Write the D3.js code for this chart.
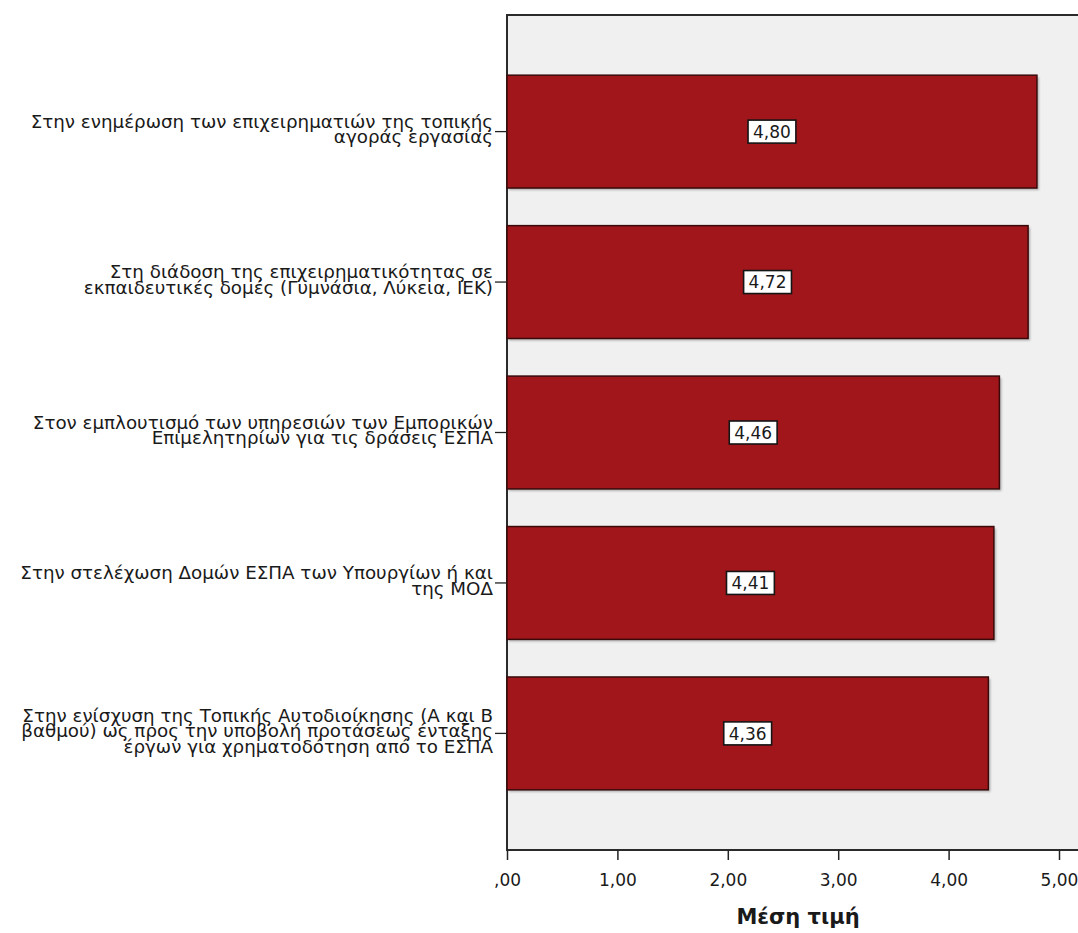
<!DOCTYPE html>
<html>
<head>
<meta charset="utf-8">
<script src="https://cdn.jsdelivr.net/npm/d3@7"></script>
<style>
  body { margin: 0; background: #ffffff; }
  svg { display: block; }
</style>
</head>
<body>
<svg id="chart" width="1078" height="933"></svg>
<script>
// Category labels, each split into the lines it is drawn on
const categoryLines = [
  ["Στην ενημέρωση των επιχειρηματιών της τοπικής", "αγοράς εργασίας"],
  ["Στη διάδοση της επιχειρηματικότητας σε", "εκπαιδευτικές δομές (Γυμνάσια, Λύκεια, ΙΕΚ)"],
  ["Στον εμπλουτισμό των υπηρεσιών των Εμπορικών", "Επιμελητηρίων για τις δράσεις ΕΣΠΑ"],
  ["Στην στελέχωση Δομών ΕΣΠΑ των Υπουργίων ή και", "της ΜΟΔ"],
  ["Στην ενίσχυση της Τοπικής Αυτοδιοίκησης (Α και Β", "βαθμού) ως προς την υποβολή προτάσεως ένταξης", "έργων για χρηματοδότηση από το ΕΣΠΑ"]
];
// Mean score per category
const meanValues = [4.80, 4.72, 4.46, 4.41, 4.36];
// X axis ticks and their printed labels
const tickValues = [0, 1, 2, 3, 4, 5];
const tickLabels = [",00", "1,00", "2,00", "3,00", "4,00", "5,00"];
const axisTitle = "Μέση τιμή";

const svg = d3.select("#chart");
const FONT = "'DejaVu Sans', sans-serif";
const plot = { left: 507, top: 15, bottom: 850, right: 1092 };

const x = d3.scaleLinear().domain([0, 5]).range([plot.left, 1059]);
const y = d3.scaleBand()
  .domain(d3.range(meanValues.length))
  .range([plot.top, plot.bottom])
  .paddingInner(0.25)
  .paddingOuter(0.4);

const fmt = v => v.toFixed(2).replace(".", ",");

// Plot background and frame
svg.append("rect")
  .attr("x", plot.left).attr("y", plot.top)
  .attr("width", plot.right - plot.left).attr("height", plot.bottom - plot.top)
  .attr("fill", "#f0f0f0")
  .attr("stroke", "#2a2a2a").attr("stroke-width", 2);

// Soft shadow under each bar
svg.append("defs").append("filter").attr("id", "soft")
  .append("feGaussianBlur").attr("stdDeviation", 1.2);

svg.append("g").selectAll("rect").data(meanValues).join("rect")
  .attr("x", x(0) + 2).attr("y", (d, i) => y(i) + 2)
  .attr("width", d => x(d) - x(0)).attr("height", y.bandwidth())
  .attr("fill", "#777").attr("opacity", 0.55)
  .attr("filter", "url(#soft)");

// Bars
svg.append("g").selectAll("rect").data(meanValues).join("rect")
  .attr("x", x(0)).attr("y", (d, i) => y(i))
  .attr("width", d => x(d) - x(0)).attr("height", y.bandwidth())
  .attr("fill", "#a1161b")
  .attr("stroke", "#3a0a0b").attr("stroke-width", 1.5);

// Value labels in boxed tags at the middle of each bar
const tags = svg.append("g").selectAll("g").data(meanValues).join("g")
  .attr("transform", (d, i) => `translate(${(x(0) + x(d)) / 2},${y(i) + y.bandwidth() / 2})`);
tags.append("text")
  .attr("text-anchor", "middle").attr("dy", "0.36em")
  .attr("font-family", FONT).attr("font-size", 17).attr("fill", "#1a1a1a")
  .text(d => fmt(d));
tags.each(function () {
  const g = d3.select(this);
  const bb = g.select("text").node().getBBox();
  g.insert("rect", "text")
    .attr("x", bb.x - 5).attr("y", -11.5)
    .attr("width", bb.width + 10).attr("height", 23)
    .attr("fill", "#ffffff")
    .attr("stroke", "#151515").attr("stroke-width", 1.6);
});

// Category axis: tick marks and right-aligned multi-line labels
const catAxis = svg.append("g");
catAxis.selectAll("line").data(meanValues).join("line")
  .attr("x1", 495).attr("x2", plot.left)
  .attr("y1", (d, i) => y(i) + y.bandwidth() / 2)
  .attr("y2", (d, i) => y(i) + y.bandwidth() / 2)
  .attr("stroke", "#222").attr("stroke-width", 1.3);

const lineGap = 15.5;
catAxis.selectAll("text").data(categoryLines).join("text")
  .attr("text-anchor", "end")
  .attr("font-family", FONT).attr("font-size", 18.3).attr("fill", "#1a1a1a")
  .each(function (lines, i) {
    const cy = y(i) + y.bandwidth() / 2;
    const first = cy + 4 - (lines.length - 1) * lineGap / 2;
    d3.select(this).selectAll("tspan").data(lines).join("tspan")
      .attr("x", 493)
      .attr("y", (l, k) => first + k * lineGap)
      .text(l => l);
  });

// Value axis
const xAxis = svg.append("g")
  .attr("transform", `translate(0,${plot.bottom})`)
  .call(d3.axisBottom(x).tickValues(tickValues)
    .tickFormat((d, i) => tickLabels[i]).tickSize(10).tickPadding(14));
xAxis.select(".domain").remove();
xAxis.selectAll(".tick line").attr("stroke", "#222").attr("stroke-width", 1.5);
xAxis.selectAll(".tick text")
  .attr("font-family", FONT).attr("font-size", 17).attr("fill", "#1a1a1a");

// Axis title
svg.append("text")
  .attr("x", 798).attr("y", 924)
  .attr("text-anchor", "middle")
  .attr("font-family", FONT).attr("font-size", 21).attr("font-weight", "bold")
  .attr("fill", "#1a1a1a")
  .text(axisTitle);
</script>
</body>
</html>
